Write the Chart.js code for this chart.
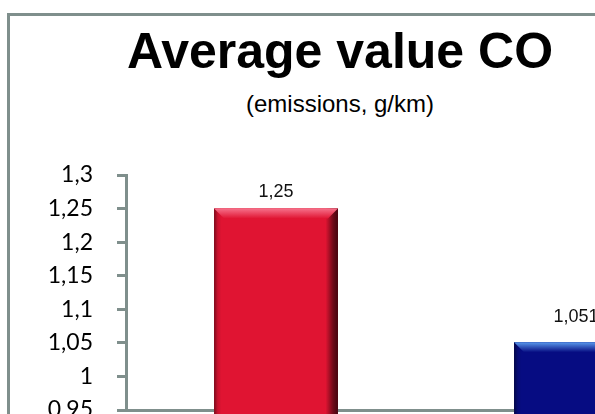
<!DOCTYPE html>
<html>
<head>
<meta charset="utf-8">
<script src="https://cdn.jsdelivr.net/npm/chart.js@4/dist/chart.umd.min.js"></script>
<style>
  body { margin: 0; overflow: hidden; background: #fff; width: 595px; height: 414px; }
  #frame { position: absolute; left: 7px; top: 13px; width: 760px; height: 500px;
           border-left: 3px solid #7f8f8c; border-top: 3px solid #7f8f8c; }
  .title { position: absolute; left: 0; width: 680px; text-align: center; color: #000;
           font-family: "Liberation Sans", Arial, sans-serif; }
  #t1 { top: 26px; font-size: 50px; line-height: 50px; font-weight: bold; }
  #t2 { top: 92px; font-size: 24px; line-height: 24px; }
  #c { position: absolute; left: 10px; top: 16px; }
</style>
</head>
<body>
<div id="frame"></div>
<div class="title" id="t1">Average value CO</div>
<div class="title" id="t2">(emissions, g/km)</div>
<canvas id="c" width="740" height="480"></canvas>
<script>
// data
const categories = ["1", "2"];
const coValues = [1.25, 1.051];
const yTicks = { min: 0.95, max: 1.3, step: 0.05 };

// bar shading
const shades = [
  { bevel: "#f6708a", top: "#e01432", bottom: "#ad000e" },
  { bevel: "#5a9aec", top: "#060c82", bottom: "#04086a" },
];

const gray = "#7f8f8c";
const comma = v => String(Number(v.toFixed(3))).replace(".", ",");

const bevelPlugin = {
  id: "bevel",
  afterDatasetsDraw(chart) {
    const ctx = chart.ctx;
    chart.getDatasetMeta(0).data.forEach((bar, i) => {
      const { x, y, width, base } = bar.getProps(["x", "y", "width", "base"], true);
      const l = x - width / 2, r = x + width / 2, t = y, b = base, s = shades[i];
      const bev = 10;
      ctx.save();
      // body
      let g = ctx.createLinearGradient(0, t, 0, b);
      g.addColorStop(0, s.top);
      g.addColorStop(0.55, s.top);
      g.addColorStop(1, s.bottom);
      ctx.fillStyle = g;
      ctx.fillRect(l, t, width, b - t);
      // sides
      g = ctx.createLinearGradient(l, 0, r, 0);
      g.addColorStop(0, "rgba(0,0,0,0.45)");
      g.addColorStop(0.03, "rgba(0,0,0,0.1)");
      g.addColorStop(0.06, "rgba(0,0,0,0)");
      g.addColorStop(0.9, "rgba(0,0,0,0)");
      g.addColorStop(0.96, "rgba(0,0,0,0.5)");
      g.addColorStop(1, "rgba(0,0,0,0.7)");
      ctx.fillStyle = g;
      ctx.fillRect(l, t, width, b - t);
      // bottom band
      g = ctx.createLinearGradient(0, b - 14, 0, b);
      g.addColorStop(0, "rgba(0,0,0,0)");
      g.addColorStop(0.6, "rgba(0,0,0,0.25)");
      g.addColorStop(1, "rgba(0,0,0,0.1)");
      ctx.fillStyle = g;
      ctx.fillRect(l, b - 14, width, 14);
      // top bevel
      g = ctx.createLinearGradient(0, t, 0, t + bev);
      g.addColorStop(0, s.bevel);
      g.addColorStop(1, s.top);
      ctx.fillStyle = g;
      ctx.beginPath();
      ctx.moveTo(l, t);
      ctx.lineTo(r, t);
      ctx.lineTo(r - bev, t + bev);
      ctx.lineTo(l + bev, t + bev);
      ctx.closePath();
      ctx.fill();
      ctx.restore();
    });
  },
};

const labelPlugin = {
  id: "valueLabels",
  afterDatasetsDraw(chart) {
    const ctx = chart.ctx;
    const gaps = [12, 20];
    ctx.save();
    ctx.font = '18px "Liberation Sans", Arial, sans-serif';
    ctx.fillStyle = "#111";
    ctx.textAlign = "center";
    chart.getDatasetMeta(0).data.forEach((bar, i) => {
      ctx.fillText(comma(coValues[i]), bar.x, bar.y - gaps[i]);
    });
    ctx.restore();
  },
};

new Chart(document.getElementById("c"), {
  type: "bar",
  data: {
    labels: categories,
    datasets: [{
      label: "CO",
      data: coValues,
      backgroundColor: shades.map(s => s.top),
      categoryPercentage: 1,
      barPercentage: 0.413,
    }],
  },
  options: {
    responsive: false,
    animation: false,
    layout: { padding: { top: 159, right: 24, left: 0, bottom: 0 } },
    plugins: { legend: { display: false }, tooltip: { enabled: false } },
    scales: {
      x: {
        ticks: { display: false },
        grid: { display: true, drawOnChartArea: false, drawTicks: false },
        border: { color: gray, width: 3 },
        afterFit: s => { s.height = 86; },
      },
      y: {
        min: yTicks.min,
        max: yTicks.max,
        ticks: {
          stepSize: yTicks.step,
          padding: 24,
          color: "#000",
          font: { family: "Lato, 'Open Sans', sans-serif", size: 23 },
          callback: v => comma(v),
        },
        grid: { drawOnChartArea: false, drawTicks: true, tickLength: 9, color: gray, lineWidth: 3 },
        border: { color: gray, width: 3 },
        afterFit: s => { s.width = 116; },
      },
    },
  },
  plugins: [bevelPlugin, labelPlugin],
});
</script>
</body>
</html>
